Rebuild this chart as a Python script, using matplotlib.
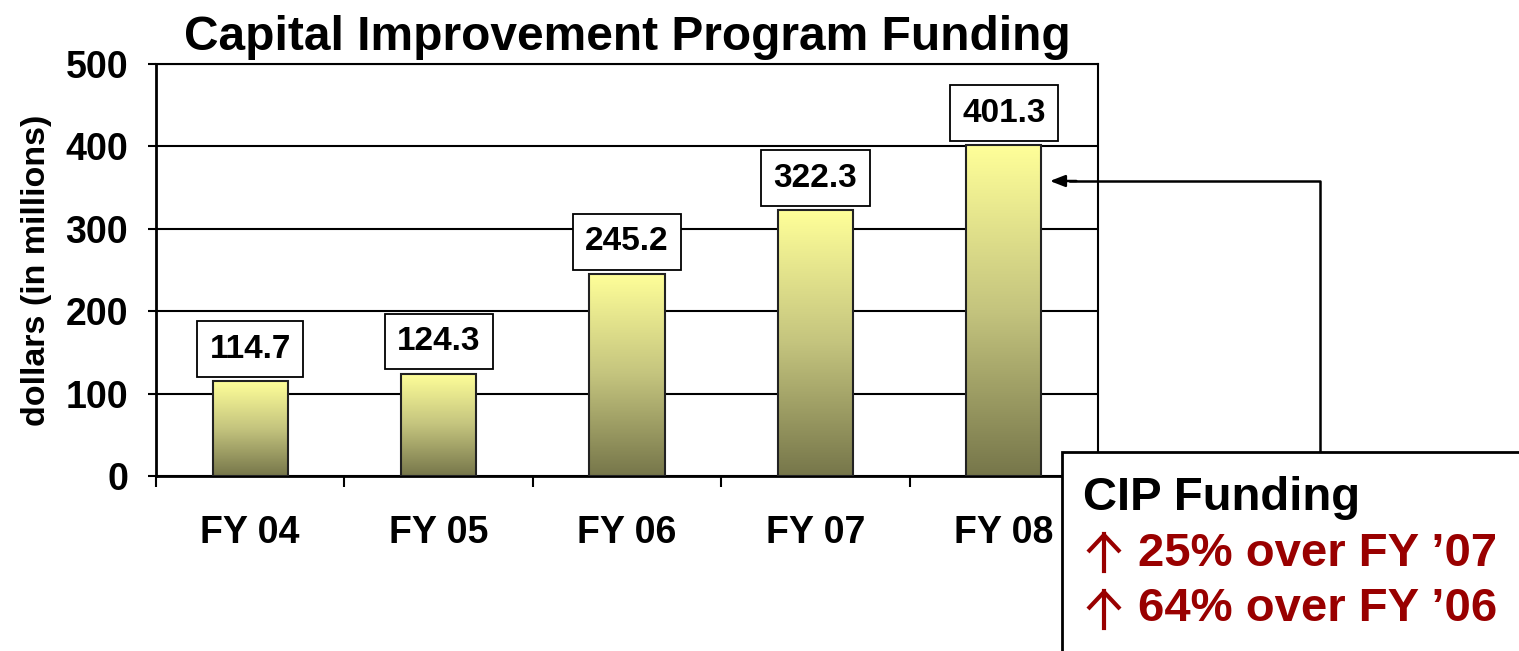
import matplotlib.pyplot as plt
import numpy as np
from matplotlib.colors import LinearSegmentedColormap
from matplotlib.patches import Rectangle
from matplotlib.lines import Line2D

years = ["FY 04", "FY 05", "FY 06", "FY 07", "FY 08"]
funding = [114.7, 124.3, 245.2, 322.3, 401.3]
box_lines = ["25% over FY \u201907", "64% over FY \u201906"]

plt.rcParams["font.family"] = ["Liberation Sans", "DejaVu Sans"]
plt.rcParams["font.weight"] = "bold"

fig = plt.figure(figsize=(15.19, 6.51), dpi=100)
W, H = 1519, 651
ax = fig.add_axes([156 / W, 1 - 476 / H, (1098 - 156) / W, (476 - 64) / H])

x = np.arange(len(years))
bars = ax.bar(x, funding, width=0.40, color="none", edgecolor="#222222", linewidth=1.5, zorder=3)

# vertical gradient inside each bar
cmap = LinearSegmentedColormap.from_list("olive", ["#76764a", "#c4c47e", "#ffff99"])
grad = np.linspace(0, 1, 256).reshape(-1, 1)
for b in bars:
    x0, w, h = b.get_x(), b.get_width(), b.get_height()
    im = ax.imshow(grad, cmap=cmap, origin="lower", aspect="auto",
                   extent=(x0, x0 + w, 0, h), zorder=2)
    im.set_clip_path(b)

for i, v in enumerate(funding):
    ax.annotate(f"{v:.1f}", xy=(i, v), xytext=(0, 12), textcoords="offset points",
                ha="center", va="bottom", fontsize=24, fontweight="bold", zorder=4,
                bbox=dict(boxstyle="square,pad=0.37", fc="white", ec="black", lw=1.3))

ax.set_xlim(-0.5, 4.5)
ax.set_ylim(0, 500)
ax.set_yticks([0, 100, 200, 300, 400, 500])
ax.yaxis.grid(True, color="black", linewidth=1.5, zorder=1)
ax.set_axisbelow(True)
ax.tick_params(axis="y", labelsize=27, length=6, width=1.5, pad=14)

ax.set_xticks(np.arange(-0.5, 5, 1.0))
ax.set_xticklabels([])
ax.tick_params(axis="x", which="major", length=8, width=1.5)
ax.set_xticks(x, minor=True)
ax.set_xticklabels(years, minor=True)
ax.tick_params(axis="x", which="minor", length=0, labelsize=27, pad=28)

for s in ax.spines.values():
    s.set_linewidth(1.5)
    s.set_color("black")
ax.spines["left"].set_linewidth(2)
ax.spines["bottom"].set_linewidth(2)

ax.set_ylabel("dollars (in millions)", fontsize=24.5, fontweight="bold", labelpad=10)
ax.set_title("Capital Improvement Program Funding", fontsize=34.5, fontweight="bold", pad=10)

# callout arrow from the box to the FY 08 bar
ax.plot([5.68, 5.68, 4.35], [30, 358, 358], color="black", lw=1.8, clip_on=False, zorder=5)
ax.annotate("", xy=(4.23, 358), xytext=(4.4, 358),
            arrowprops=dict(arrowstyle="-|>,head_length=0.9,head_width=0.35",
                            color="black", lw=1.8), annotation_clip=False, zorder=5)

# callout box
fig.patches.append(Rectangle((1062 / W, -0.05), 0.4, 1 - 452 / H + 0.05, transform=fig.transFigure,
                             fc="white", ec="black", lw=2, zorder=10))
fig.text(1083 / W, 1 - 510 / H, "CIP Funding", fontsize=34, fontweight="bold",
         color="black", zorder=11)


def up_arrow(top):
    # hand-drawn up arrow, pixel coords converted to figure fraction
    stem = Line2D([1104 / W, 1104 / W], [1 - (top + 2) / H, 1 - (top + 39) / H],
                  transform=fig.transFigure, color="#990000", lw=3.0, zorder=11)
    head = Line2D([1088 / W, 1104 / W, 1120 / W],
                  [1 - (top + 20) / H, 1 - (top + 3) / H, 1 - (top + 20) / H],
                  transform=fig.transFigure, color="#990000", lw=3.0, zorder=11,
                  solid_joinstyle="miter", solid_capstyle="butt")
    fig.add_artist(stem)
    fig.add_artist(head)


for line, yb, top in zip(box_lines, [566, 621], [532, 589]):
    up_arrow(top)
    fig.text(1138 / W, 1 - yb / H, line, fontsize=34, fontweight="bold",
             color="#990000", zorder=11)

fig.savefig("out.png", dpi=100)
